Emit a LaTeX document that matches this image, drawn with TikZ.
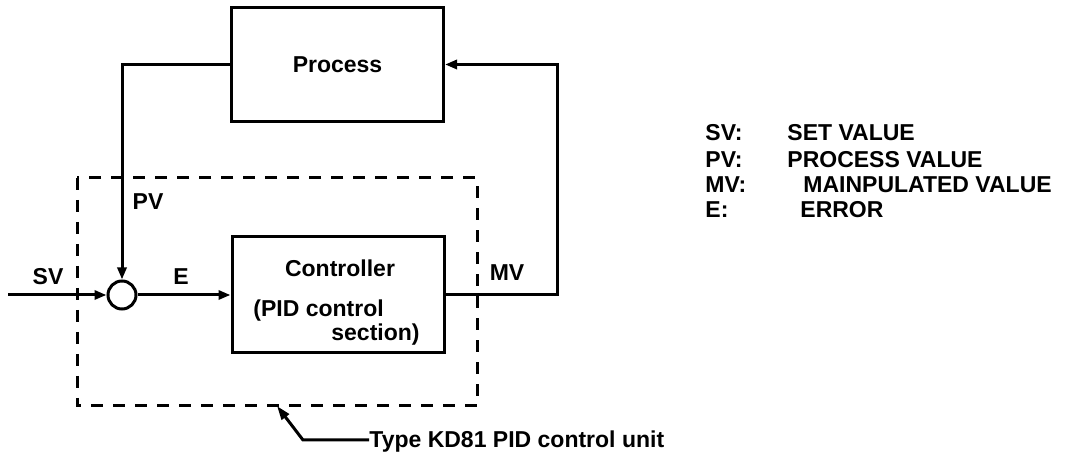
\documentclass[tikz,border=0pt]{standalone}
\usepackage{fontspec}
\setmainfont{Liberation Sans}
\usetikzlibrary{arrows.meta,positioning}

\begin{document}
\begin{tikzpicture}[x=0.5pt,y=-0.5pt,
    every node/.style={font=\fontsize{11.5}{13}\selectfont\bfseries,inner sep=0pt},
    block/.style={draw,line width=1.5pt,minimum width=106pt,minimum height=57pt},
    junction/.style={circle,draw,line width=1.5pt,minimum size=14pt},
    wire/.style={line width=1.5pt},
    flow/.style={wire,-{Triangle[length=6pt,width=4.5pt]}},
    unitline/.style={line width=1.5pt,dash pattern=on 6pt off 5pt}]
  \useasboundingbox (0,0) rectangle (1091,458);

  % blocks of the loop
  \node[block] (proc) at (337.5,64.5) {Process};
  \node[block,minimum height=58pt] (ctrl) at (338,295) {};
  \node[junction] (sum) at (122,295) {};
  \node (ctrlname) at (340,268) {Controller};
  \node[anchor=west] (ctrlpid) at (253,311) {(PID control};
  \node[anchor=east] (ctrlsec) at (420,335) {section)};

  % dashed outline of the unit
  \draw[unitline] (77,178) rectangle (477,406);

  % signal lines
  \coordinate (svin) at (8,295);
  \coordinate (mvturn) at (557,295);
  \draw[flow] (svin) -- (sum);
  \draw[flow] (sum) -- (ctrl);
  \draw[flow] (proc.west) -| (sum.north);
  \draw[flow] (ctrl.east) -- (mvturn) |- (proc.east);
  \node (svlbl) at (48,277) {SV};
  \node (pvlbl) at (148,202) {PV};
  \node (elbl) at (181,277) {E};
  \node (mvlbl) at (507,273) {MV};

  % leader to the unit name
  \coordinate (unittip) at (277,406);
  \coordinate (unitknee) at (303,440);
  \node[anchor=base west] (unitname) at (369,448) {Type KD81 PID control unit};
  \draw[wire,{Triangle[length=7pt,width=4.5pt]}-] (unittip) -- (unitknee) -- (unitname.west |- unitknee);

  % legend
  \foreach \y/\ab/\x/\txt/\i in {133/SV:/787/SET VALUE/sv,160/PV:/787/PROCESS VALUE/pv,
      185/MV:/803/MAINPULATED VALUE/mv,210/E:/800/ERROR/e} {
    \node[anchor=west] (key\i) at (705,\y) {\ab};
    \node[anchor=west] (val\i) at (\x,\y) {\txt};
  }
\end{tikzpicture}
\end{document}
